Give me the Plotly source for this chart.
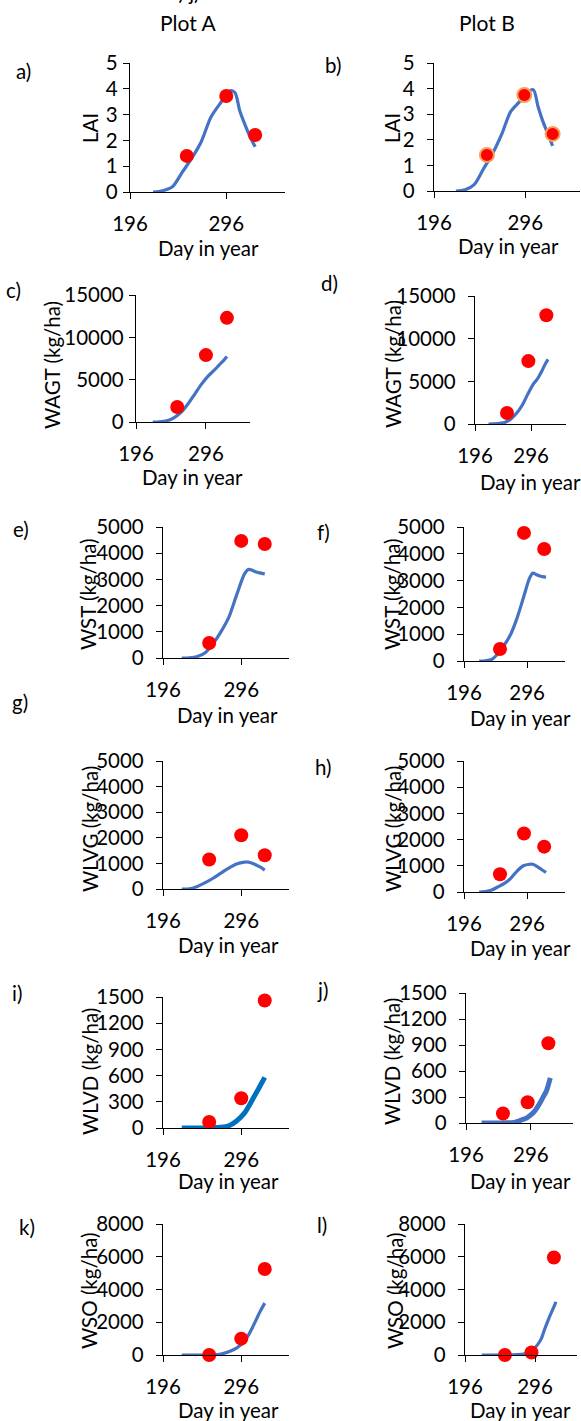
import plotly.graph_objects as go

# ---------------- data ----------------
sim_day = [220, 230, 240, 250, 260, 270, 280, 290, 300, 305, 310, 315, 320, 326]
obs_day_A = [255, 296, 326]
obs_day_B = [253, 291, 323]
obs_day_B_lai = [254, 295, 326]

# Plot A simulated
lai_sim_A = [0, 0.05, 0.2, 0.75, 1.3, 1.95, 2.9, 3.45, 3.92, 3.85, 3.15, 2.65, 2.2, 1.75]
wagt_sim_A = [0, 30, 150, 500, 1100, 2100, 3300, 4500, 5500, 5900, 6300, 6750, 7150, 7750]
wst_sim_A = [0, 10, 60, 200, 550, 1000, 1550, 2400, 3200, 3380, 3350, 3280, 3250, 3210]
wlvg_sim_A = [0, 10, 100, 250, 420, 620, 820, 980, 1050, 1050, 1010, 940, 860, 740]
wlvd_sim_A = [0, 0, 0, 0, 2, 8, 25, 80, 170, 240, 320, 400, 480, 580]
wso_sim_A = [0, 0, 0, 0, 10, 60, 200, 420, 850, 1200, 1650, 2150, 2650, 3170]

# Plot B simulated
lai_sim_B = [0, 0.05, 0.25, 0.85, 1.45, 2.2, 3.1, 3.5, 3.9, 3.95, 3.3, 2.75, 2.3, 1.76]
wagt_sim_B = [0, 20, 80, 200, 600, 1250, 2200, 3500, 4700, 5100, 5600, 6200, 6900, 7570]
wst_sim_B = [0, 10, 60, 280, 600, 1000, 1600, 2350, 3100, 3280, 3230, 3180, 3150, 3130]
wlvg_sim_B = [0, 20, 80, 200, 330, 520, 800, 1000, 1060, 1060, 1000, 920, 840, 750]
wlvd_sim_B = [0, 0, 0, 0, 2, 5, 30, 60, 120, 170, 230, 300, 370, 520]
wso_sim_B = [0, 0, 0, 0, 5, 20, 60, 200, 650, 1000, 1600, 2150, 2650, 3250]

# Observed
lai_obs_A = [1.40, 3.72, 2.21]
lai_obs_B = [1.41, 3.75, 2.23]
wagt_obs_A = [1770, 7900, 12300]
wagt_obs_B = [1290, 7370, 12750]
wst_obs_A = [570, 4470, 4350]
wst_obs_B = [450, 4780, 4180]
wlvg_obs_A = [1150, 2100, 1320]
wlvg_obs_B = [680, 2230, 1730]
wlvd_obs_A = [70, 340, 1460]
wlvd_obs_B = [110, 240, 920]
wso_obs_A = [0, 1000, 5250]
wso_obs_B = [0, 150, 5950]

x_tick_vals = [196, 296]
x_title = "Day in year"

W, H = 581, 1421
FONT = "Lato, Carlito, Calibri, sans-serif"
FS = 20.5
BLUE = "#4472C4"
RED = "#FF0000"

def px(x):
    return x / W

def py(y):
    return 1 - y / H

panels = [
    dict(lab="a)", yt="LAI", sd=sim_day, sv=lai_sim_A, od=obs_day_A, ov=lai_obs_A,
         box=(130, 285, 63, 192), xmax=357, ymax=5, dt=1, lp=(23, 71), ytp=(90, 128), xtp=(208, 248), ys=1),
    dict(lab="b)", yt="LAI", sd=sim_day, sv=lai_sim_B, od=obs_day_B_lai, ov=lai_obs_B,
         box=(434, 580, 63, 191), xmax=356, ymax=5, dt=1, lp=(333, 65), ytp=(392, 128), xtp=(508, 246), ys=8, outline=True),
    dict(lab="c)", yt="WAGT (kg/ha)", sd=sim_day, sv=wagt_sim_A, od=obs_day_A, ov=wagt_obs_A,
         box=(136, 250, 295, 422), xmax=359, ymax=15000, dt=5000, lp=(13, 290), ytp=(52, 365), xtp=(192, 477), ys=1),
    dict(lab="d)", yt="WAGT (kg/ha)", sd=sim_day, sv=wagt_sim_B, od=obs_day_B, ov=wagt_obs_B,
         box=(475, 566, 296, 424), xmax=358, ymax=15000, dt=5000, lp=(329, 283), ytp=(393, 364), xtp=(530, 482), ys=8),
    dict(lab="e)", yt="WST (kg/ha)", sd=sim_day, sv=wst_sim_A, od=obs_day_A, ov=wst_obs_A,
         box=(163, 289, 527, 658), xmax=357, ymax=5000, dt=1000, lp=(21, 529), ytp=(88, 594), xtp=(227, 715), ys=8),
    dict(lab="f)", yt="WST (kg/ha)", sd=sim_day, sv=wst_sim_B, od=obs_day_B, ov=wst_obs_B,
         box=(464, 565, 527, 661), xmax=356, ymax=5000, dt=1000, lp=(323, 532), ytp=(392, 594), xtp=(520, 718), ys=8),
    dict(lab="g)", yt="WLVG (kg/ha)", sd=sim_day, sv=wlvg_sim_A, od=obs_day_A, ov=wlvg_obs_A,
         box=(163, 289, 761, 889), xmax=357, ymax=5000, dt=1000, lp=(20, 702), ytp=(90, 829), xtp=(228, 945), ys=8),
    dict(lab="h)", yt="WLVG (kg/ha)", sd=sim_day, sv=wlvg_sim_B, od=obs_day_B, ov=wlvg_obs_B,
         box=(464, 565, 761, 892), xmax=356, ymax=5000, dt=1000, lp=(323, 767), ytp=(393, 829), xtp=(520, 948), ys=8),
    dict(lab="i)", yt="WLVD (kg/ha)", sd=sim_day, sv=wlvd_sim_A, od=obs_day_A, ov=wlvd_obs_A,
         box=(163, 289, 997, 1128), xmax=357, ymax=1500, dt=300, lp=(17, 993), ytp=(90, 1072), xtp=(228, 1181), ys=8,
         lc="#0070C0", lw=5),
    dict(lab="j)", yt="WLVD (kg/ha)", sd=sim_day, sv=wlvd_sim_B, od=obs_day_B, ov=wlvd_obs_B,
         box=(466, 573, 993, 1123), xmax=361, ymax=1500, dt=300, lp=(322, 990), ytp=(392, 1062), xtp=(520, 1181), ys=8,
         lw=5),
    dict(lab="k)", yt="WSO (kg/ha)", sd=sim_day, sv=wso_sim_A, od=obs_day_A, ov=wso_obs_A,
         box=(163, 289, 1224, 1355), xmax=357, ymax=8000, dt=2000, lp=(27, 1227), ytp=(89, 1291), xtp=(228, 1410), ys=8),
    dict(lab="l)", yt="WSO (kg/ha)", sd=sim_day, sv=wso_sim_B, od=obs_day_B, ov=wso_obs_B,
         box=(465, 577, 1224, 1355), xmax=356, ymax=8000, dt=2000, lp=(322, 1225), ytp=(395, 1291), xtp=(520, 1410), ys=8),
]

fig = go.Figure()
annotations = []
layout = {}

for i, p in enumerate(panels):
    n = "" if i == 0 else str(i + 1)
    xa, ya = "x" + n, "y" + n
    x0, x1, yt, yz = p["box"]
    fig.add_trace(go.Scatter(
        x=p["sd"], y=p["sv"], mode="lines", xaxis=xa, yaxis=ya,
        line=dict(color=p.get("lc", BLUE), width=p.get("lw", 3.2), shape="spline", smoothing=0.8),
        cliponaxis=False, showlegend=False, hoverinfo="skip"))
    mk = dict(color=RED, size=14)
    if p.get("outline"):
        mk["line"] = dict(color="#F4A15A", width=2)
    else:
        mk["line"] = dict(width=0)
    fig.add_trace(go.Scatter(
        x=p["od"], y=p["ov"], mode="markers", xaxis=xa, yaxis=ya,
        marker=mk, cliponaxis=False, showlegend=False))
    layout["xaxis" + n] = dict(
        domain=[px(x0), px(x1)], range=[196, p["xmax"]], anchor=ya, automargin=False,
        tickvals=x_tick_vals, ticks="outside", ticklen=6, tickwidth=1.3, tickcolor="black",
        showline=True, linecolor="black", linewidth=1.3, showgrid=False, zeroline=False,
        tickfont=dict(family=FONT, size=FS, color="black"), ticklabelstandoff=7)
    layout["yaxis" + n] = dict(
        domain=[py(yz), py(yt)], range=[0, p["ymax"]], anchor=xa, dtick=p["dt"], tick0=0,
        automargin=False, tickformat="d",
        ticks="outside", ticklen=6, tickwidth=1.3, tickcolor="black",
        showline=True, linecolor="black", linewidth=1.3, showgrid=False, zeroline=False,
        tickfont=dict(family=FONT, size=FS, color="black"), ticklabelstandoff=p["ys"])
    annotations.append(dict(text=p["lab"], x=px(p["lp"][0]), y=py(p["lp"][1]), xref="paper", yref="paper",
                            showarrow=False, xanchor="center", yanchor="middle",
                            font=dict(family=FONT, size=FS, color="black")))
    annotations.append(dict(text=p["yt"], x=px(p["ytp"][0]), y=py(p["ytp"][1]), xref="paper", yref="paper",
                            showarrow=False, textangle=-90, xanchor="center", yanchor="middle",
                            font=dict(family=FONT, size=FS, color="black")))
    annotations.append(dict(text=x_title, x=px(p["xtp"][0]), y=py(p["xtp"][1]), xref="paper", yref="paper",
                            showarrow=False, xanchor="center", yanchor="middle",
                            font=dict(family=FONT, size=FS, color="black")))

annotations.append(dict(text="Plot A", x=px(188), y=py(23), xref="paper", yref="paper", showarrow=False,
                        xanchor="center", yanchor="middle", font=dict(family=FONT, size=FS + 0.5, color="black")))
annotations.append(dict(text="Plot B", x=px(487), y=py(23), xref="paper", yref="paper", showarrow=False,
                        xanchor="center", yanchor="middle", font=dict(family=FONT, size=FS + 0.5, color="black")))
# partially visible text at the very top edge of the reference crop
annotations.append(dict(text="c) j)", x=px(184), y=py(-8), xref="paper", yref="paper", showarrow=False,
                        xanchor="center", yanchor="middle", font=dict(family=FONT, size=FS, color="black")))

fig.update_layout(
    template="none",
    width=W, height=H, margin=dict(l=0, r=0, t=0, b=0, autoexpand=False),
    paper_bgcolor="white", plot_bgcolor="white",
    annotations=annotations, showlegend=False, **layout)

fig.write_html("out.html", config={"displayModeBar": False},
               post_script="document.body.style.margin='0';document.body.style.padding='0';")
